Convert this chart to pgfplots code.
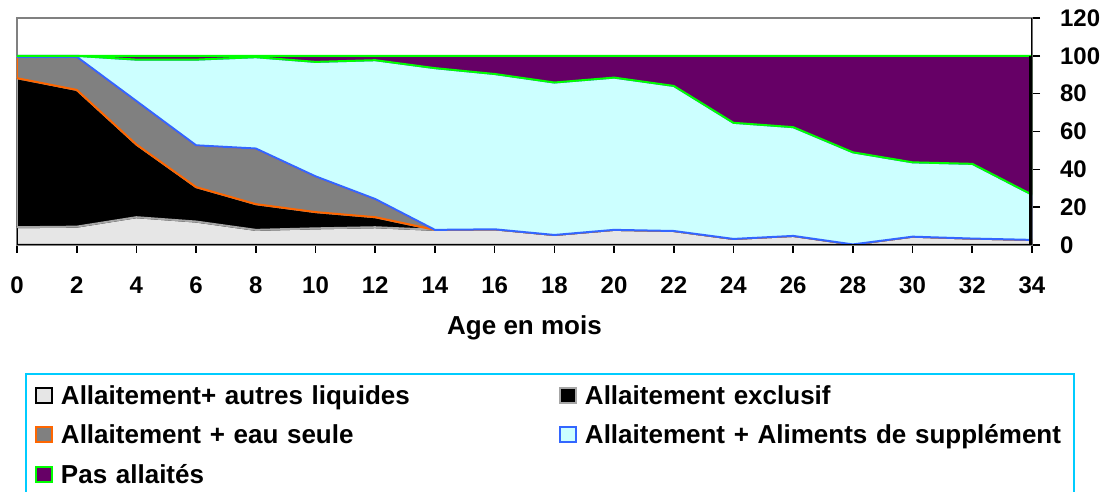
\documentclass[border=0pt]{standalone}
\usepackage{fontspec}
\setmainfont{Liberation Sans}
\usepackage{pgfplots}
\usepackage{pgfplotstable}
\pgfplotsset{compat=1.18}

\definecolor{autres}{HTML}{E6E6E6}
\definecolor{exclborder}{HTML}{A6A6A6}
\definecolor{eaufill}{HTML}{808080}
\definecolor{eauborder}{HTML}{FF6600}
\definecolor{alimfill}{HTML}{CCFFFF}
\definecolor{alimborder}{HTML}{3366FF}
\definecolor{pasfill}{HTML}{660066}
\definecolor{pasborder}{HTML}{00FF00}
\definecolor{legborder}{HTML}{00CCFF}

% age, autres liquides, exclusif, eau seule, aliments, pas allaites
\pgfplotstableread{
age autres excl eau alim pas
0  9.4 78.8 11.3  0.5  0.0
2  9.7 72.3 17.5  0.5  0.0
4  14.7 38.4 23.0 21.9  2.0
6  12.4 18.2 22.1 45.3  2.0
8  8.0 13.6 29.4 48.3  0.7
10 8.8  8.6 18.9 60.5  3.2
12 9.4  5.3  9.6 73.4  2.3
14 8.0  0.0  0.0 85.5  6.5
16 8.3  0.0  0.0 82.1  9.6
18 5.3  0.0  0.0 80.6 14.1
20 8.0  0.0  0.0 80.5 11.5
22 7.4  0.0  0.0 76.7 15.9
24 3.2  0.0  0.0 61.4 35.4
26 4.8  0.0  0.0 57.5 37.7
28 0.3  0.0  0.0 48.7 51.0
30 4.4  0.0  0.0 39.3 56.3
32 3.4  0.0  0.0 39.5 57.1
34 2.7  0.0  0.0 23.9 73.4
}\allait

\begin{document}
\begin{tikzpicture}
\begin{axis}[
  scale only axis,
  width=507.5pt, height=113.5pt,
  xmin=0, xmax=34, ymin=0, ymax=120,
  stack plots=y,
  reverse stacked plots=false,
  xtick={0,2,...,34}, ytick={0,20,...,120},
  xtick pos=lower, ytick pos=right,
  yticklabel pos=right,
  tick align=outside,
  major tick length=4pt,
  tick style={black, line width=0.8pt},
  axis line style={draw=gray, line width=1pt},
  /pgf/number format/assume math mode=true,
  ticklabel style={font=\bfseries\fontsize{12}{14}\selectfont},
  xticklabel style={yshift=-8.5pt},
  yticklabel style={anchor=west, xshift=6.5pt},
  xlabel={Age en mois},
  xlabel style={at={(axis description cs:0.5,0)}, anchor=base, yshift=-45pt,
    font=\bfseries\fontsize{13}{15}\selectfont},
  legend columns=2,
  legend cell align=left,
  legend image code/.code={\draw[#1, line width=1pt] (0pt,-3.75pt) rectangle (8pt,3.75pt);},
  legend style={at={(0.00788,-0.5626)}, anchor=north west,
    draw=legborder, line width=1pt, fill=white,
    inner xsep=4.5pt, inner ysep=4.65pt,
    font=\bfseries\fontsize{13}{15}\selectfont,
    nodes={inner sep=0pt, text width=240pt, text height=10.5pt, text depth=1.5pt},
    row sep=7.75pt,
    /tikz/every odd column/.append style={column sep=4pt},
    /tikz/every even column/.append style={column sep=9pt}},
]
\addplot[fill=autres, draw=black, line width=1pt] table[x=age, y=autres] {\allait} \closedcycle;
\addplot[fill=black, draw=exclborder, line width=1pt] table[x=age, y=excl] {\allait} \closedcycle;
\addplot[fill=eaufill, draw=eauborder, line width=1pt] table[x=age, y=eau] {\allait} \closedcycle;
\addplot[fill=alimfill, draw=alimborder, line width=1pt] table[x=age, y=alim] {\allait} \closedcycle;
\addplot[fill=pasfill, draw=pasborder, line width=1pt] table[x=age, y=pas] {\allait} \closedcycle;
\legend{Allaitement+ autres liquides, Allaitement exclusif, Allaitement + eau seule, Allaitement + Aliments de supplément, Pas allaités}
\draw[black, line width=1pt] (axis cs:0,0) -- (axis cs:34,0);
\draw[black, line width=1pt] (axis cs:34,0) -- (axis cs:34,120);
\draw[black, line width=2pt] ([xshift=-0.5pt]axis cs:34,0) -- ([xshift=-0.5pt]axis cs:34,100);
\end{axis}
\pgfresetboundingbox
\useasboundingbox (-8.5pt,-123.5pt) rectangle (541.5pt,122.5pt);
\end{tikzpicture}
\end{document}
